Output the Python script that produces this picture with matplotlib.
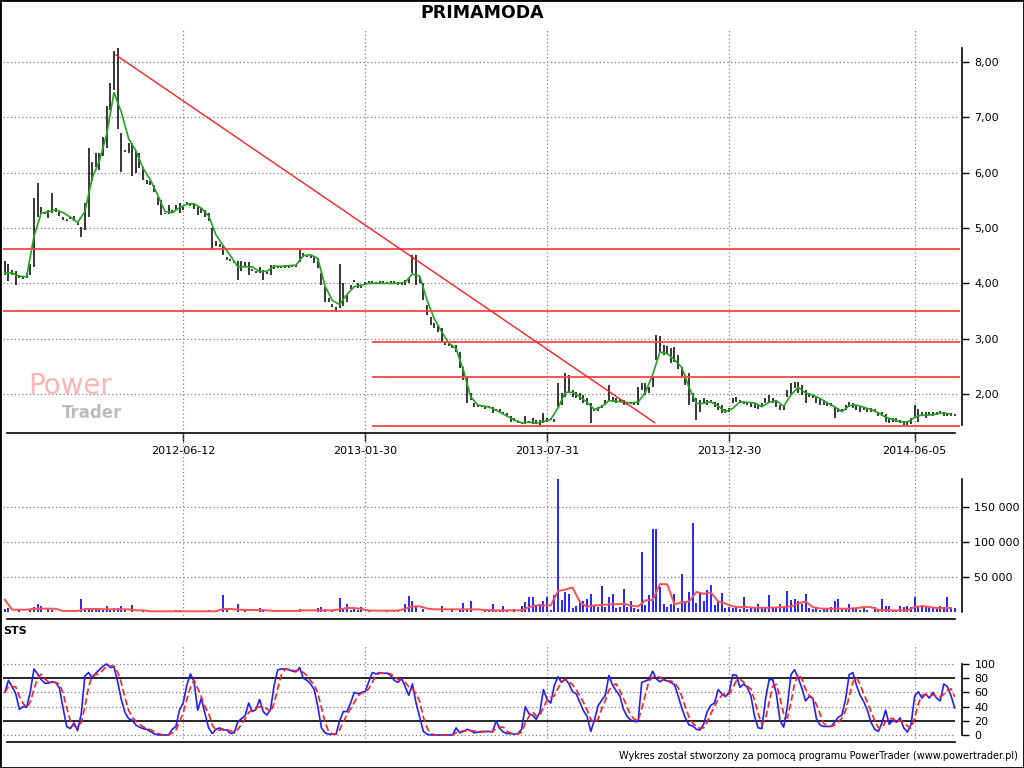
import numpy as np
import pandas as pd
import matplotlib.pyplot as plt
from matplotlib.patches import Rectangle

# price bars (one bar per two sessions)
high = [
    4.40, 4.35, 4.25, 4.22, 4.15, 4.14, 4.18, 4.35, 5.55, 5.82,
    5.38, 5.30, 5.33, 5.63, 5.36, 5.29, 5.20, 5.16, 5.20, 5.22,
    5.10, 5.02, 5.45, 6.45, 6.20, 6.36, 6.36, 6.65, 7.20, 7.62,
    8.20, 8.25, 6.72, 6.42, 6.54, 6.54, 6.40, 6.36, 6.10, 5.87,
    5.85, 5.78, 5.56, 5.50, 5.28, 5.42, 5.32, 5.42, 5.46, 5.38,
    5.47, 5.45, 5.43, 5.38, 5.36, 5.33, 5.28, 5.00, 4.76, 4.72,
    4.70, 4.48, 4.45, 4.41, 4.40, 4.40, 4.39, 4.38, 4.26, 4.22,
    4.30, 4.24, 4.21, 4.33, 4.33, 4.32, 4.32, 4.33, 4.32, 4.32,
    4.34, 4.60, 4.55, 4.52, 4.52, 4.48, 4.46, 4.19, 3.93, 3.74,
    3.63, 3.58, 4.35, 4.00, 3.79, 3.97, 4.06, 4.00, 3.95, 4.02,
    4.04, 4.04, 4.03, 4.04, 4.04, 4.03, 4.04, 4.05, 4.03, 4.02,
    4.06, 4.10, 4.51, 4.51, 4.12, 4.00, 3.61, 3.39, 3.28, 3.25,
    3.19, 2.94, 2.90, 2.87, 2.89, 2.76, 2.49, 2.31, 2.02, 1.84,
    1.80, 1.80, 1.77, 1.79, 1.76, 1.73, 1.72, 1.68, 1.65, 1.60,
    1.57, 1.52, 1.50, 1.60, 1.52, 1.57, 1.53, 1.53, 1.66, 1.57,
    1.57, 1.54, 2.20, 2.02, 2.38, 2.34, 2.07, 2.04, 2.02, 1.98,
    1.93, 1.84, 1.73, 1.77, 1.80, 1.90, 2.16, 1.95, 1.93, 1.91,
    1.89, 1.86, 1.86, 1.86, 2.13, 2.20, 2.20, 2.13, 2.31, 3.07,
    3.05, 2.89, 2.87, 2.83, 2.85, 2.70, 2.49, 2.34, 2.38, 2.02,
    1.93, 1.89, 1.93, 1.90, 1.89, 1.86, 1.84, 1.80, 1.73, 1.75,
    1.93, 1.95, 1.90, 1.86, 1.86, 1.84, 1.82, 1.80, 1.84, 1.93,
    1.98, 1.93, 1.89, 1.80, 1.80, 2.07, 2.20, 2.22, 2.22, 2.16,
    2.07, 2.02, 1.98, 1.95, 1.93, 1.89, 1.86, 1.84, 1.77, 1.75,
    1.72, 1.80, 1.86, 1.84, 1.80, 1.77, 1.77, 1.75, 1.75, 1.72,
    1.68, 1.68, 1.63, 1.57, 1.57, 1.56, 1.53, 1.52, 1.52, 1.57,
    1.80, 1.72, 1.68, 1.68, 1.68, 1.68, 1.68, 1.70, 1.68, 1.66,
    1.65, 1.64,
]
low = [
    4.15, 4.05, 4.15, 3.98, 4.10, 4.08, 4.10, 4.15, 4.30, 5.20,
    5.25, 5.26, 5.18, 5.28, 5.30, 5.22, 5.15, 5.13, 5.16, 5.13,
    5.05, 4.84, 4.96, 5.20, 5.85, 6.10, 6.05, 6.30, 6.45, 7.13,
    7.50, 6.80, 6.01, 6.38, 6.35, 5.95, 6.00, 6.08, 5.87, 5.80,
    5.78, 5.65, 5.42, 5.24, 5.25, 5.25, 5.27, 5.33, 5.28, 5.33,
    5.42, 5.40, 5.35, 5.24, 5.28, 5.20, 5.12, 4.60, 4.68, 4.66,
    4.52, 4.43, 4.40, 4.36, 4.06, 4.22, 4.30, 4.16, 4.22, 4.18,
    4.19, 4.06, 4.17, 4.15, 4.26, 4.27, 4.28, 4.28, 4.28, 4.29,
    4.30, 4.39, 4.48, 4.48, 4.46, 4.37, 4.28, 3.97, 3.66, 3.66,
    3.58, 3.48, 3.55, 3.60, 3.66, 3.90, 4.02, 3.92, 3.91, 3.98,
    4.00, 4.00, 3.99, 4.00, 4.01, 3.99, 4.00, 4.01, 3.98, 3.98,
    3.97, 4.00, 4.19, 3.97, 4.00, 3.70, 3.43, 3.25, 3.19, 3.12,
    2.94, 2.89, 2.87, 2.83, 2.76, 2.47, 2.25, 1.84, 1.89, 1.77,
    1.76, 1.76, 1.73, 1.75, 1.66, 1.69, 1.67, 1.63, 1.60, 1.50,
    1.52, 1.47, 1.46, 1.46, 1.48, 1.46, 1.48, 1.41, 1.48, 1.50,
    1.53, 1.50, 1.76, 1.80, 1.95, 2.02, 1.95, 1.93, 1.89, 1.84,
    1.80, 1.48, 1.69, 1.70, 1.75, 1.80, 1.89, 1.86, 1.84, 1.86,
    1.80, 1.80, 1.82, 1.80, 1.80, 2.07, 1.98, 2.02, 2.13, 2.61,
    2.74, 2.70, 2.72, 2.56, 2.58, 2.45, 2.29, 2.16, 1.80, 1.86,
    1.53, 1.68, 1.84, 1.80, 1.84, 1.76, 1.71, 1.66, 1.65, 1.67,
    1.84, 1.86, 1.84, 1.82, 1.80, 1.76, 1.75, 1.73, 1.76, 1.84,
    1.86, 1.84, 1.76, 1.71, 1.71, 1.95, 1.98, 2.11, 2.02, 1.98,
    1.84, 1.95, 1.93, 1.84, 1.80, 1.80, 1.78, 1.78, 1.57, 1.67,
    1.67, 1.71, 1.76, 1.75, 1.71, 1.68, 1.71, 1.68, 1.67, 1.67,
    1.60, 1.60, 1.50, 1.48, 1.50, 1.50, 1.48, 1.44, 1.44, 1.46,
    1.57, 1.50, 1.60, 1.57, 1.62, 1.60, 1.62, 1.64, 1.60, 1.61,
    1.60, 1.60,
]
# green average line, every 2nd bar
ma_line = [
    4.19, 4.19, 4.13, 4.12, 4.85, 5.27, 5.30, 5.33, 5.28, 5.20,
    5.10, 5.30, 5.90, 6.22, 6.70, 7.45, 7.10, 6.62, 6.40, 6.08,
    5.87, 5.60, 5.30, 5.28, 5.37, 5.43, 5.44, 5.36, 5.22, 4.88,
    4.68, 4.50, 4.30, 4.30, 4.30, 4.21, 4.22, 4.31, 4.31, 4.32,
    4.33, 4.50, 4.52, 4.45, 3.95, 3.69, 3.62, 3.80, 3.94, 3.97,
    4.00, 4.00, 4.00, 4.00, 4.00, 4.02, 4.17, 4.13, 3.70, 3.36,
    3.13, 2.92, 2.82, 2.43, 1.95, 1.80, 1.78, 1.74, 1.67, 1.60,
    1.53, 1.48, 1.49, 1.47, 1.50, 1.54, 1.75, 2.03, 2.03, 1.95,
    1.85, 1.72, 1.77, 1.88, 1.87, 1.85, 1.84, 1.85, 2.03, 2.35,
    2.76, 2.73, 2.62, 2.48, 2.12, 1.83, 1.83, 1.86, 1.78, 1.68,
    1.74, 1.86, 1.85, 1.84, 1.77, 1.85, 1.88, 1.78, 1.98, 2.12,
    2.02, 1.98, 1.92, 1.84, 1.77, 1.68, 1.79, 1.80, 1.76, 1.72,
    1.66, 1.58, 1.54, 1.50, 1.49, 1.58, 1.62, 1.62, 1.64, 1.66,
    1.63,
]
# volume in thousands of shares
volume_k = [
    4, 5, 0, 0, 3, 0, 0, 3, 7, 12,
    8, 0, 5, 3, 0, 0, 0, 0, 0, 0,
    0, 18, 4, 3, 4, 4, 3, 3, 8, 4,
    6, 5, 9, 3, 0, 10, 0, 0, 3, 0,
    0, 0, 0, 0, 0, 0, 0, 3, 3, 0,
    0, 0, 0, 0, 0, 0, 3, 0, 0, 0,
    24, 3, 0, 0, 11, 0, 4, 0, 0, 0,
    5, 3, 0, 0, 3, 0, 0, 0, 0, 0,
    0, 4, 0, 0, 0, 0, 5, 7, 4, 0,
    3, 0, 20, 4, 11, 3, 4, 3, 7, 0,
    3, 0, 0, 0, 0, 3, 0, 3, 3, 0,
    12, 23, 16, 7, 0, 4, 0, 0, 0, 0,
    8, 0, 0, 4, 0, 4, 13, 4, 16, 0,
    0, 0, 3, 3, 12, 3, 3, 8, 3, 0,
    4, 0, 8, 14, 21, 21, 10, 12, 15, 21,
    3, 24, 190, 17, 28, 26, 5, 8, 14, 15,
    18, 26, 8, 7, 37, 7, 22, 26, 5, 7,
    33, 7, 15, 5, 4, 86, 10, 24, 119, 119,
    36, 12, 7, 12, 25, 5, 54, 16, 28, 127,
    13, 27, 15, 32, 38, 10, 15, 27, 5, 7,
    5, 8, 4, 21, 4, 5, 7, 12, 5, 7,
    24, 7, 5, 11, 5, 30, 17, 18, 16, 12,
    26, 5, 4, 7, 3, 5, 4, 7, 16, 18,
    6, 5, 12, 5, 4, 3, 5, 3, 0, 7,
    3, 18, 9, 9, 3, 3, 9, 7, 8, 7,
    21, 9, 10, 8, 9, 7, 6, 9, 6, 21,
    6, 5,
]
# volume average (red), every 2nd bar, thousands
volume_ma_k = [
    17.6, 3.3, 3.3, 3.3, 4.8, 4.8, 4.8, 4.5, 1.4, 1.4,
    1.4, 4.3, 4.3, 4.3, 3.8, 3.8, 3.8, 3.8, 2.4, 2.4,
    1.0, 1.0, 1.0, 1.0, 1.0, 1.0, 1.0, 1.0, 1.0, 1.0,
    4.3, 4.3, 3.5, 2.9, 2.9, 2.9, 2.4, 1.4, 1.4, 1.4,
    1.4, 2.4, 2.4, 2.4, 2.4, 2.4, 3.8, 5.7, 5.7, 4.5,
    1.9, 1.9, 1.9, 1.9, 1.9, 5.0, 8.0, 8.0, 5.0, 3.8,
    3.8, 3.8, 3.8, 3.8, 3.8, 3.8, 2.8, 2.4, 2.4, 2.4,
    2.4, 2.4, 7.0, 9.5, 9.5, 9.5, 30, 32, 35, 14,
    7.5, 9.5, 10, 11, 11, 12, 9, 8, 16.7, 17,
    40, 39.5, 11, 14, 15, 28.6, 26, 28, 15, 12,
    8, 7, 7, 6, 6, 6, 6.5, 7, 8, 12,
    15, 7, 5, 4.8, 4.8, 4.8, 4.8, 5.5, 7, 7,
    3, 2.4, 2.4, 2.4, 2.4, 7, 8.6, 7, 5.7, 5.7,
    5.7,
]
# stochastic %K
sts_k = [
    60, 77, 68, 58, 36, 40, 39, 61, 93, 86,
    78, 73, 73, 75, 74, 66, 38, 12, 9, 17,
    6, 30, 83, 88, 80, 87, 92, 97, 100, 95,
    96, 75, 50, 32, 23, 21, 14, 11, 9, 8,
    5, 2, 0, 0, 0, 0, 8, 12, 35, 45,
    70, 86, 75, 35, 52, 30, 10, 2, 8, 10,
    7, 7, 2, 3, 18, 23, 27, 45, 33, 36,
    50, 33, 28, 36, 70, 92, 93, 93, 92, 90,
    89, 95, 80, 77, 72, 64, 40, 10, 3, 1,
    1, 1, 20, 33, 33, 45, 60, 58, 60, 61,
    75, 88, 86, 88, 87, 87, 84, 77, 74, 80,
    68, 56, 72, 45, 25, 5, 1, 0, 0, 0,
    0, 0, 0, 0, 10, 3, 5, 8, 6, 3,
    4, 5, 5, 5, 4, 20, 9, 4, 2, 2,
    1, 2, 8, 40, 30, 28, 22, 32, 64, 50,
    45, 70, 82, 74, 79, 72, 61, 58, 46, 34,
    26, 5, 21, 41, 49, 56, 84, 70, 62, 55,
    36, 26, 21, 19, 19, 74, 76, 78, 90, 79,
    75, 78, 76, 74, 71, 55, 38, 24, 14, 13,
    8, 7, 15, 33, 42, 45, 64, 58, 54, 60,
    85, 84, 67, 72, 67, 55, 26, 10, 9, 50,
    78, 78, 58, 20, 11, 40, 85, 92, 80, 66,
    48, 54, 52, 23, 14, 12, 12, 12, 18, 25,
    28, 50, 85, 88, 70, 56, 47, 35, 18, 8,
    5, 17, 35, 15, 21, 18, 24, 10, 4, 15,
    55, 61, 52, 58, 52, 60, 52, 48, 72, 68,
    55, 38,
]

date_ticks = [49, 99, 149, 199, 250]
date_labels = ["2012-06-12", "2013-01-30", "2013-07-31", "2013-12-30", "2014-06-05"]

# support / resistance levels and the falling trend line
full_levels = [4.62, 3.50]
late_levels = [2.94, 2.31, 1.43]
trend_x = [30.5, 178.6]
trend_y = [8.13, 1.48]

x = np.arange(len(high))
x2 = np.arange(0, len(high), 2)
vol = np.array(volume_k) * 1000
vol_ma = np.array(volume_ma_k) * 1000
sts_d = pd.Series(sts_k).rolling(3, min_periods=1).mean()

W, H = 1024, 768
fig = plt.figure(figsize=(W / 100, H / 100), dpi=100)


def box(l, t, r, b):
    return [l / W, 1 - b / H, (r - l) / W, (b - t) / H]


dot = dict(color="#808080", lw=0.9, linestyle=(0, (1, 2)))
xmin, xmax, xend = -0.5, 263.0, 261.9

ax = fig.add_axes(box(3, 28, 962, 433))
axv = fig.add_axes(box(3, 433, 962, 619))
axs = fig.add_axes(box(3, 644, 962, 742))

for a in (ax, axv, axs):
    a.patch.set_visible(False)
    a.set_xlim(xmin, xmax)
    a.spines["left"].set_visible(False)
    a.spines["top"].set_visible(False)
    a.spines["bottom"].set_bounds(0.6, 261)
    a.spines["bottom"].set_linewidth(1.2)
    a.spines["right"].set_linewidth(1.2)
    a.yaxis.tick_right()
    a.tick_params(axis="y", direction="out", length=5, width=1, labelsize=8, pad=4)
    a.set_xticks(date_ticks)

# ---- price panel ----
ax.set_ylim(1.295, 8.618)
ax.vlines(date_ticks, 1.295, 8.618, **dot)
ax.hlines(range(2, 9), xmin, xend, **dot)
ax.vlines(x, low, high, color="black", lw=1.1, zorder=3)
ax.plot(x2, ma_line, color="#22a322", lw=1.2, zorder=4)
ax.hlines(full_levels, xmin, xend + 0.6, color="#ff4545", lw=1.3, zorder=5)
ax.hlines(late_levels, 100.9, xend + 0.6, color="#ff4545", lw=1.3, zorder=5)
ax.plot(trend_x, trend_y, color="#ff2020", lw=1.0, zorder=5)
ax.spines["right"].set_bounds(1.44, 8.26)
ax.set_yticks(range(2, 9))
ax.set_yticklabels([f"{v},00" for v in range(2, 9)])
ax.set_xticklabels(date_labels)
ax.tick_params(axis="x", direction="out", length=6, width=1, labelsize=8, pad=3)

# ---- volume panel ----
axv.set_ylim(-10000, 255714)
axv.vlines(date_ticks, -10000, 255714, **dot)
axv.hlines([50000, 100000, 150000], xmin, xend, **dot)
axv.vlines(x, 0, vol, color="#0000ff", lw=1.2, zorder=3)
axv.plot(x2, vol_ma, color="#ff5050", lw=1.4, zorder=4)
axv.spines["right"].set_bounds(0, 190000)
axv.set_yticks([50000, 100000, 150000])
axv.set_yticklabels(["50 000", "100 000", "150 000"])
axv.tick_params(axis="x", length=0, labelbottom=False)

# ---- STS panel ----
axs.set_ylim(-9.9, 128.2)
axs.vlines(date_ticks, -4, 128.2, **dot)
axs.hlines([0, 40, 60, 100], xmin, 261, **dot)
axs.hlines([20, 80], xmin, 261, color="black", lw=1.2)
axs.plot(x, sts_k, color="#2020ff", lw=1.2, zorder=3)
axs.plot(x, sts_d, color="#ff2020", lw=1.2, dashes=(4, 2), zorder=4)
axs.spines["right"].set_bounds(0, 100)
axs.set_yticks(range(0, 101, 20))
axs.tick_params(axis="x", length=0, labelbottom=False)

# ---- texts ----
fig.text(482 / W, 1 - 13 / H, "PRIMAMODA", ha="center", va="center",
         fontsize=12.5, fontweight="bold")
fig.text(3 / W, 1 - 631 / H, "STS", ha="left", va="center", fontsize=8, fontweight="bold")
fig.text(28 / W, 1 - 394 / H, "Power", ha="left", va="baseline", fontsize=20,
         color="#ffb4b4")
fig.text(62 / W, 1 - 418 / H, "Trader", ha="left", va="baseline", fontsize=12,
         fontweight="bold", color="#bdbdbd")
fig.text(1018 / W, 1 - 756 / H,
         "Wykres został stworzony za pomocą programu PowerTrader (www.powertrader.pl)",
         ha="right", va="center", fontsize=7)

fig.patches.append(Rectangle((0, 0), 1, 1, transform=fig.transFigure, fill=False,
                             edgecolor="black", lw=2))

fig.savefig("out.png", dpi=100)
